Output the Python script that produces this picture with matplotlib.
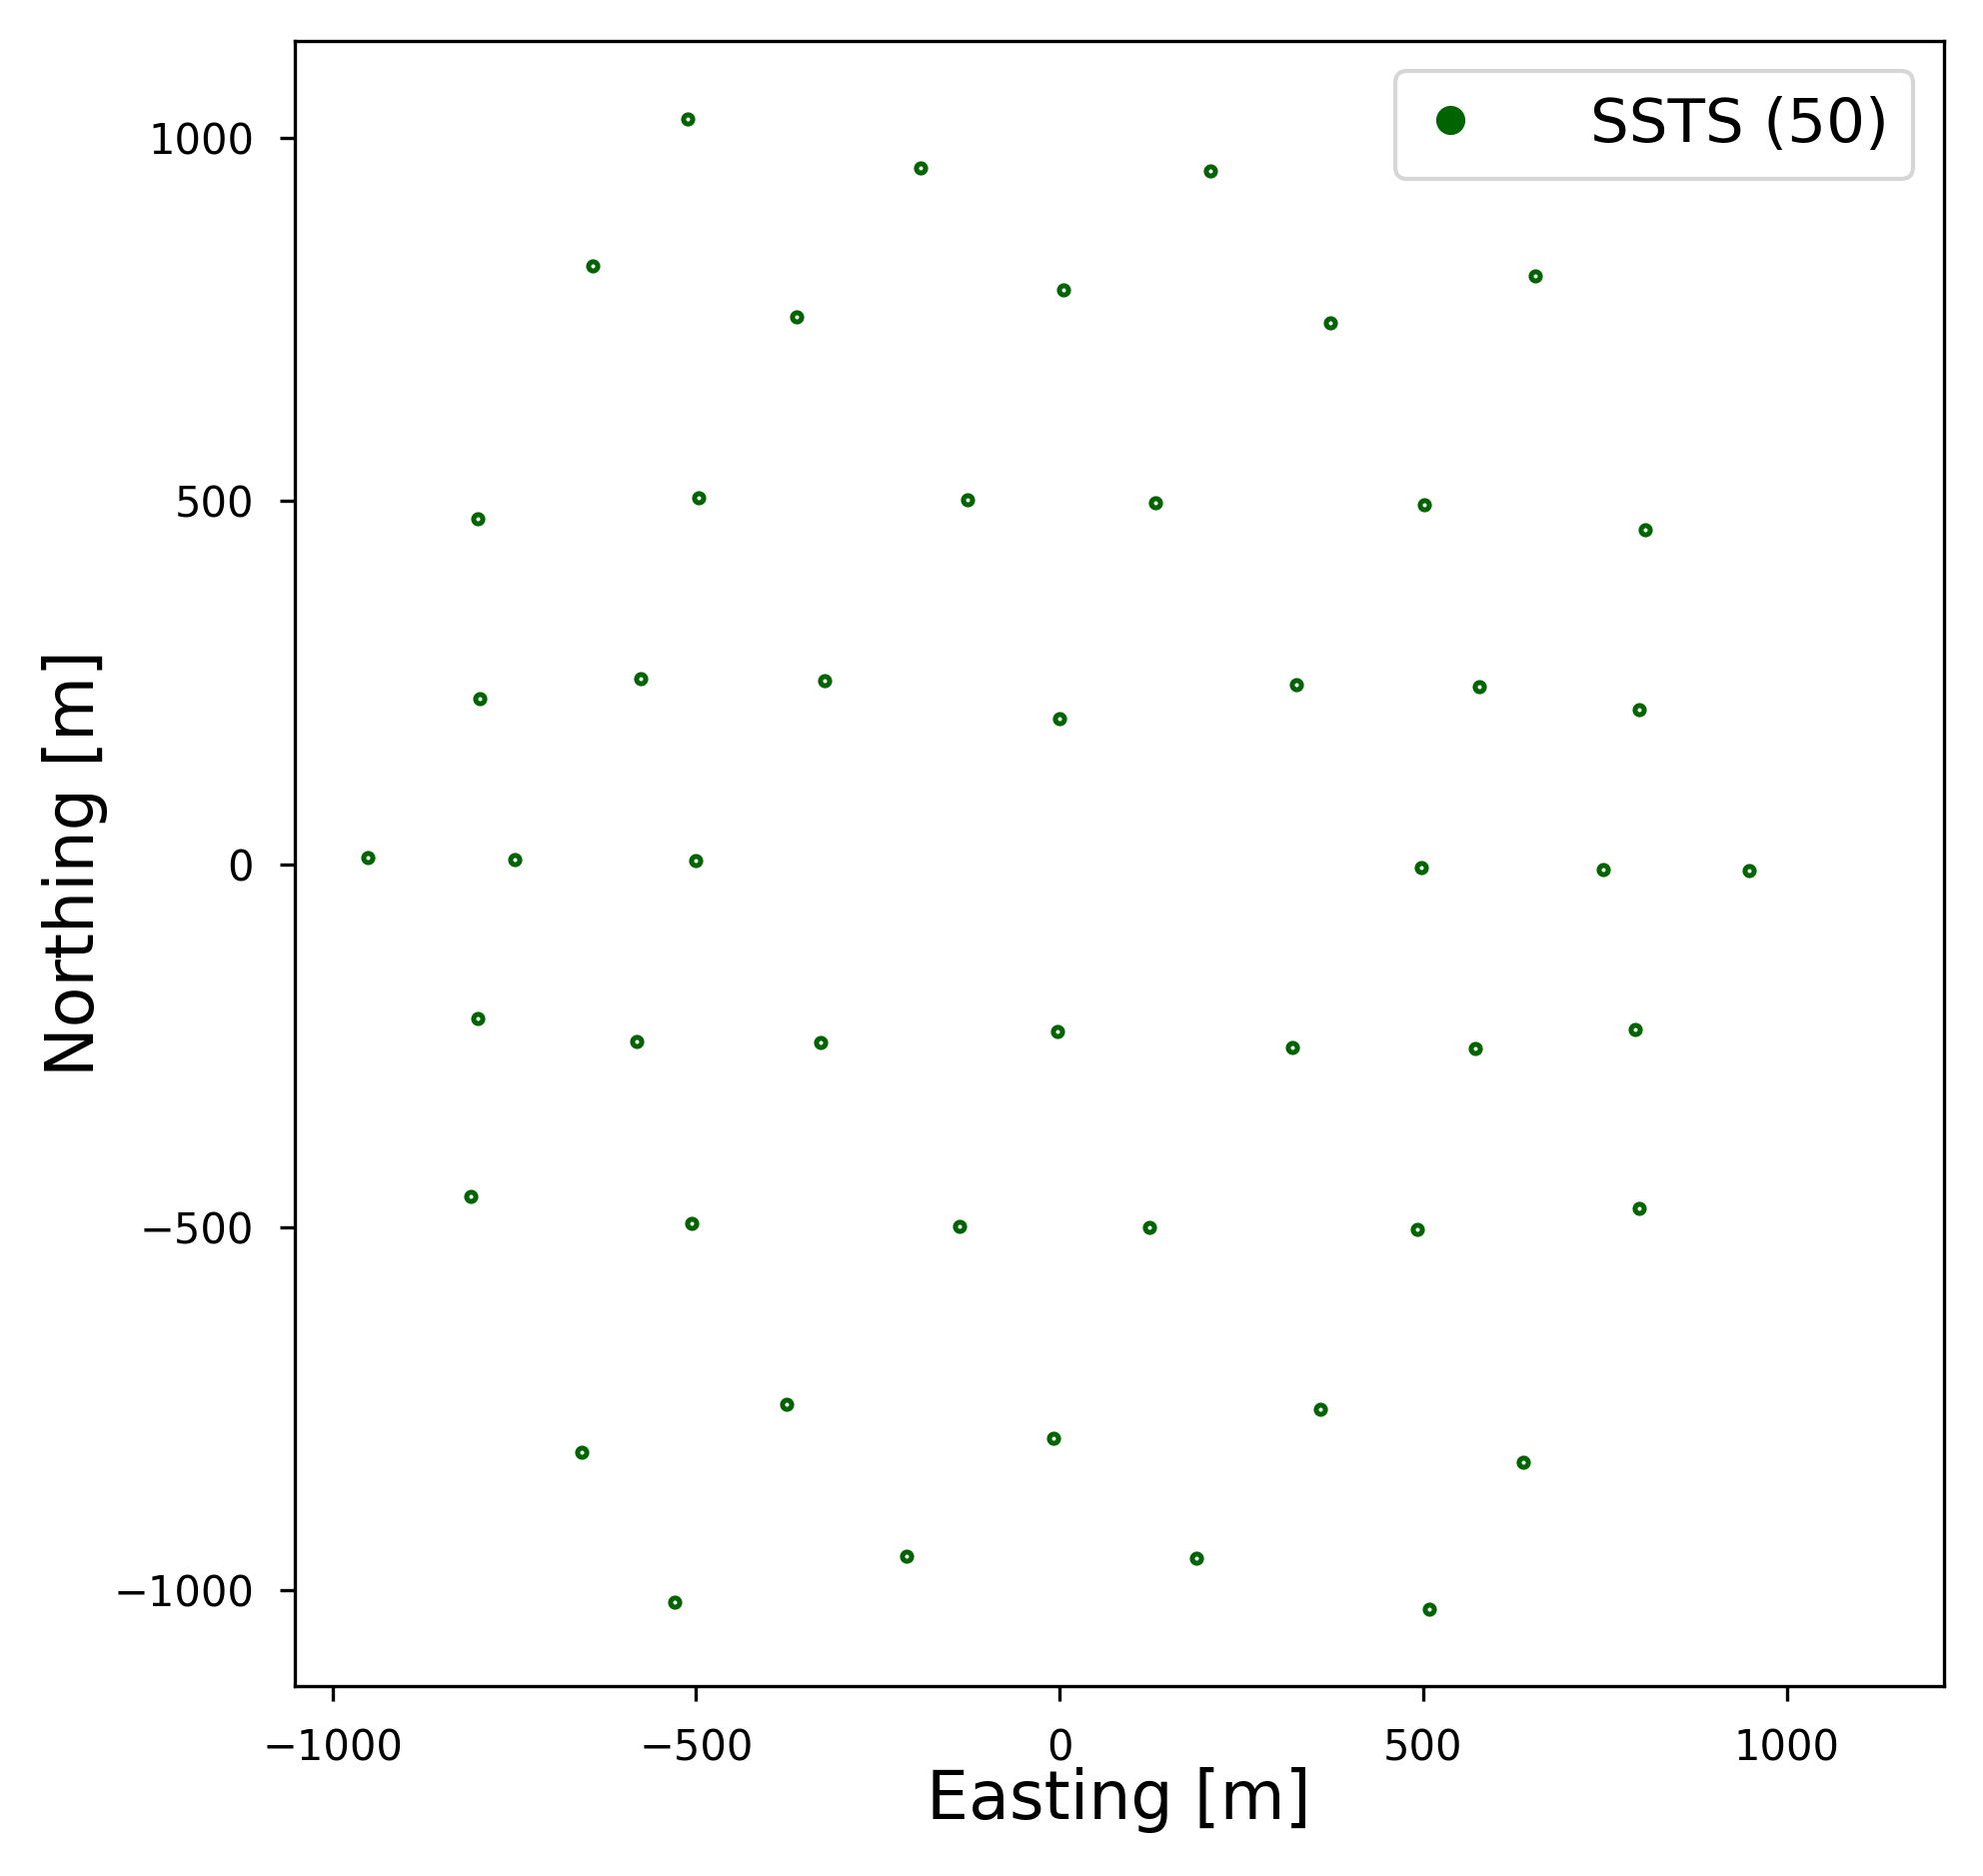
import numpy as np
import matplotlib
matplotlib.use('Agg')
import matplotlib.pyplot as plt
from matplotlib.lines import Line2D

# Station positions
easting = [-511, -191, 207, -642, 5, -362, 372, 654, 530,
           -800, -496, -127, 132, 501, 805,
           -797, -576, -323, 0, 325, 577, 797,
           -951, -750, -501, 497, 748, 948,
           -800, -581, -329, -3, 320, 572, 791,
           -810, -506, -137, 123, 492, 797,
           -376, 358, -657, -9, 638,
           -210, 188, -530, 508]
northing = [1026, 958, 955, 824, 791, 753, 746, 810, 1020,
            476, 505, 502, 498, 495, 460,
            228, 256, 253, 200, 247, 244, 213,
            9, 7, 5, -5, -7, -9,
            -213, -244, -246, -230, -253, -254, -228,
            -458, -495, -498, -500, -503, -474,
            -744, -751, -810, -791, -824,
            -953, -956, -1016, -1026]
label = 'SSTS (%d)' % len(easting)

fig = plt.figure(figsize=(1984 / 300, 1877 / 300), dpi=300)
ax = fig.add_axes([0.1486, 0.1011, 0.8316, 0.8773])

ax.plot(easting, northing, 'o', ls='none', ms=2.2, mfc='white',
        mec='darkgreen', mew=1.2, zorder=2)

ax.set_xlim(-1052, 1216)
ax.set_ylim(-1132, 1134)
ax.set_xticks([-1000, -500, 0, 500, 1000])
ax.set_yticks([-1000, -500, 0, 500, 1000])
ax.tick_params(labelsize=10, pad=6.3)

ax.set_xlabel('Easting [m]', fontsize=16, labelpad=-0.5)
ax.set_ylabel('Northing [m]', fontsize=16, labelpad=1.2)

handle = Line2D([], [], marker='o', ls='none', color='darkgreen', ms=6)
ax.legend([handle], [label], loc='upper right', fontsize=14.7,
          handlelength=1.0, handletextpad=1.78)

plt.savefig('out.png', dpi=300)
